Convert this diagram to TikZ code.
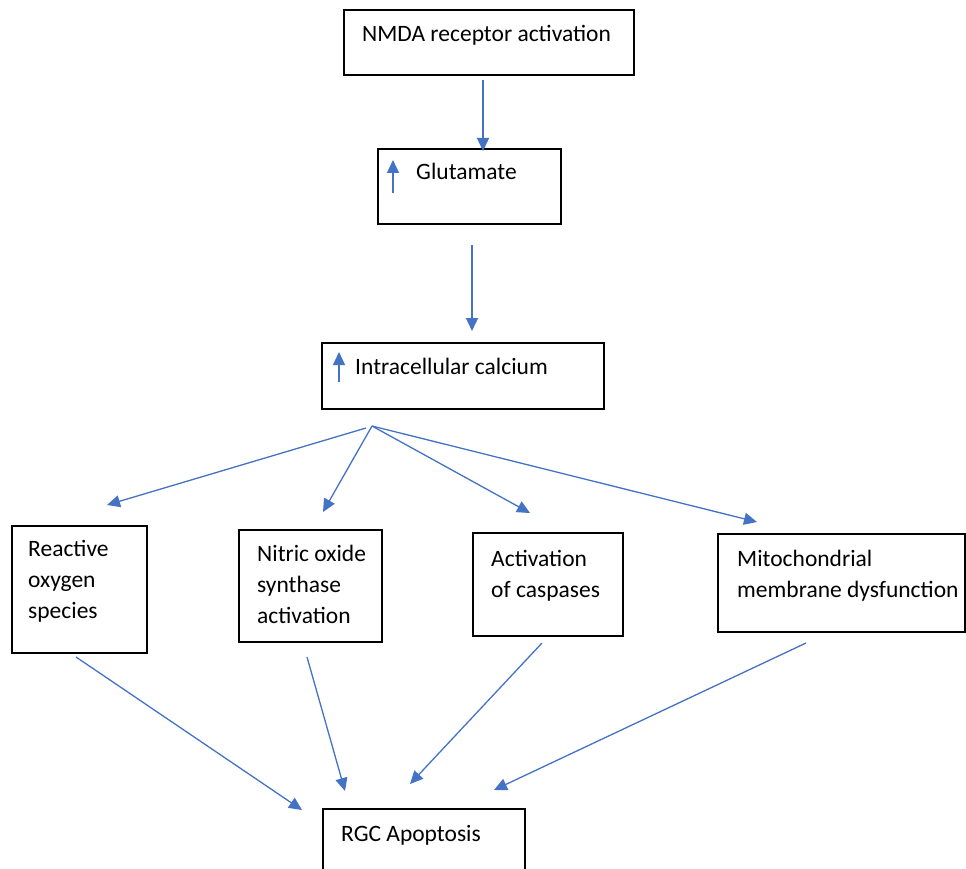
\documentclass[tikz,border=0pt]{standalone}
\usepackage{fontspec}
\setmainfont{Carlito}
\usetikzlibrary{arrows.meta}
\definecolor{arrowblue}{HTML}{4472C4}
\tikzset{
  box/.style={draw=black, line width=1.8pt, inner sep=0pt, fill=white},
  lbl/.style={inner sep=0pt, font=\fontsize{23.5}{31}\selectfont, text=black},
  conn/.style={draw=arrowblue, line width=1.3pt, -{Triangle[length=13pt,width=12pt]}},
}
\begin{document}
\begin{tikzpicture}[x=1pt,y=-1pt]
\clip (0,0) rectangle (966,869);
\fill[white] (0,0) rectangle (966,869);
% boxes
\node[box, minimum width=290, minimum height=65] (nmda) at (489,42.5) {};
\node[box, minimum width=183, minimum height=75] (glut) at (469.5,186.5) {};
\node[box, minimum width=282, minimum height=66] (calc) at (463,376) {};
\node[box, minimum width=135, minimum height=127] (ros) at (79.5,589.5) {};
\node[box, minimum width=143, minimum height=112] (nos) at (310.5,586) {};
\node[box, minimum width=150, minimum height=103] (casp) at (548,584.5) {};
\node[box, minimum width=247, minimum height=98] (mito) at (841.5,583) {};
\node[box, minimum width=202, minimum height=90] (rgc) at (424,854) {};
% texts (base anchor = baseline of last line)
\node[lbl, anchor=base west] (tnmda) at (362,42) {NMDA receptor activation};
\node[lbl, anchor=base west] (tglut) at (416,180) {Glutamate};
\node[lbl, anchor=base west] (tcalc) at (355,374) {Intracellular calcium};
\node[lbl, anchor=base west, align=left] (tros) at (28,618) {Reactive\\oxygen\\species};
\node[lbl, anchor=base west, align=left] (tnos) at (257,623) {Nitric oxide\\synthase\\activation};
\node[lbl, anchor=base west, align=left] (tcasp) at (491,597) {Activation\\of caspases};
\node[lbl, anchor=base west, align=left] (tmito) at (737,597) {Mitochondrial\\membrane dysfunction};
\node[lbl, anchor=base west] (trgc) at (341,841) {RGC Apoptosis};
% connector end points
\coordinate (a1s) at (483,80);   \coordinate (a1e) at (483,151);
\coordinate (a2s) at (472,245);  \coordinate (a2e) at (472,331);
\coordinate (fanA) at (366,428); \coordinate (fan) at (372,426);
\coordinate (rosin) at (107,505);
\coordinate (nosin) at (323,512);
\coordinate (caspin) at (530,513);
\coordinate (mitoin) at (757,522);
\coordinate (rosout) at (76,657);  \coordinate (rgc1) at (302,810);
\coordinate (nosout) at (307,657); \coordinate (rgc2) at (345,791);
\coordinate (caspout) at (542,643);\coordinate (rgc3) at (410,784);
\coordinate (mitoout) at (806,643);\coordinate (rgc4) at (494,790);
\coordinate (ug1) at (393,193); \coordinate (ug2) at (393,160);
\coordinate (uc1) at (339,382); \coordinate (uc2) at (339,352);
% connectors
\draw[conn] (a1s) -- (a1e);
\draw[conn] (a2s) -- (a2e);
\draw[conn] (fanA) -- (rosin);
\draw[conn] (fan) -- (nosin);
\draw[conn] (fan) -- (caspin);
\draw[conn] (fan) -- (mitoin);
\draw[conn] (rosout) -- (rgc1);
\draw[conn] (nosout) -- (rgc2);
\draw[conn] (caspout) -- (rgc3);
\draw[conn] (mitoout) -- (rgc4);
\draw[conn] (ug1) -- (ug2);
\draw[conn] (uc1) -- (uc2);
\end{tikzpicture}
\end{document}
